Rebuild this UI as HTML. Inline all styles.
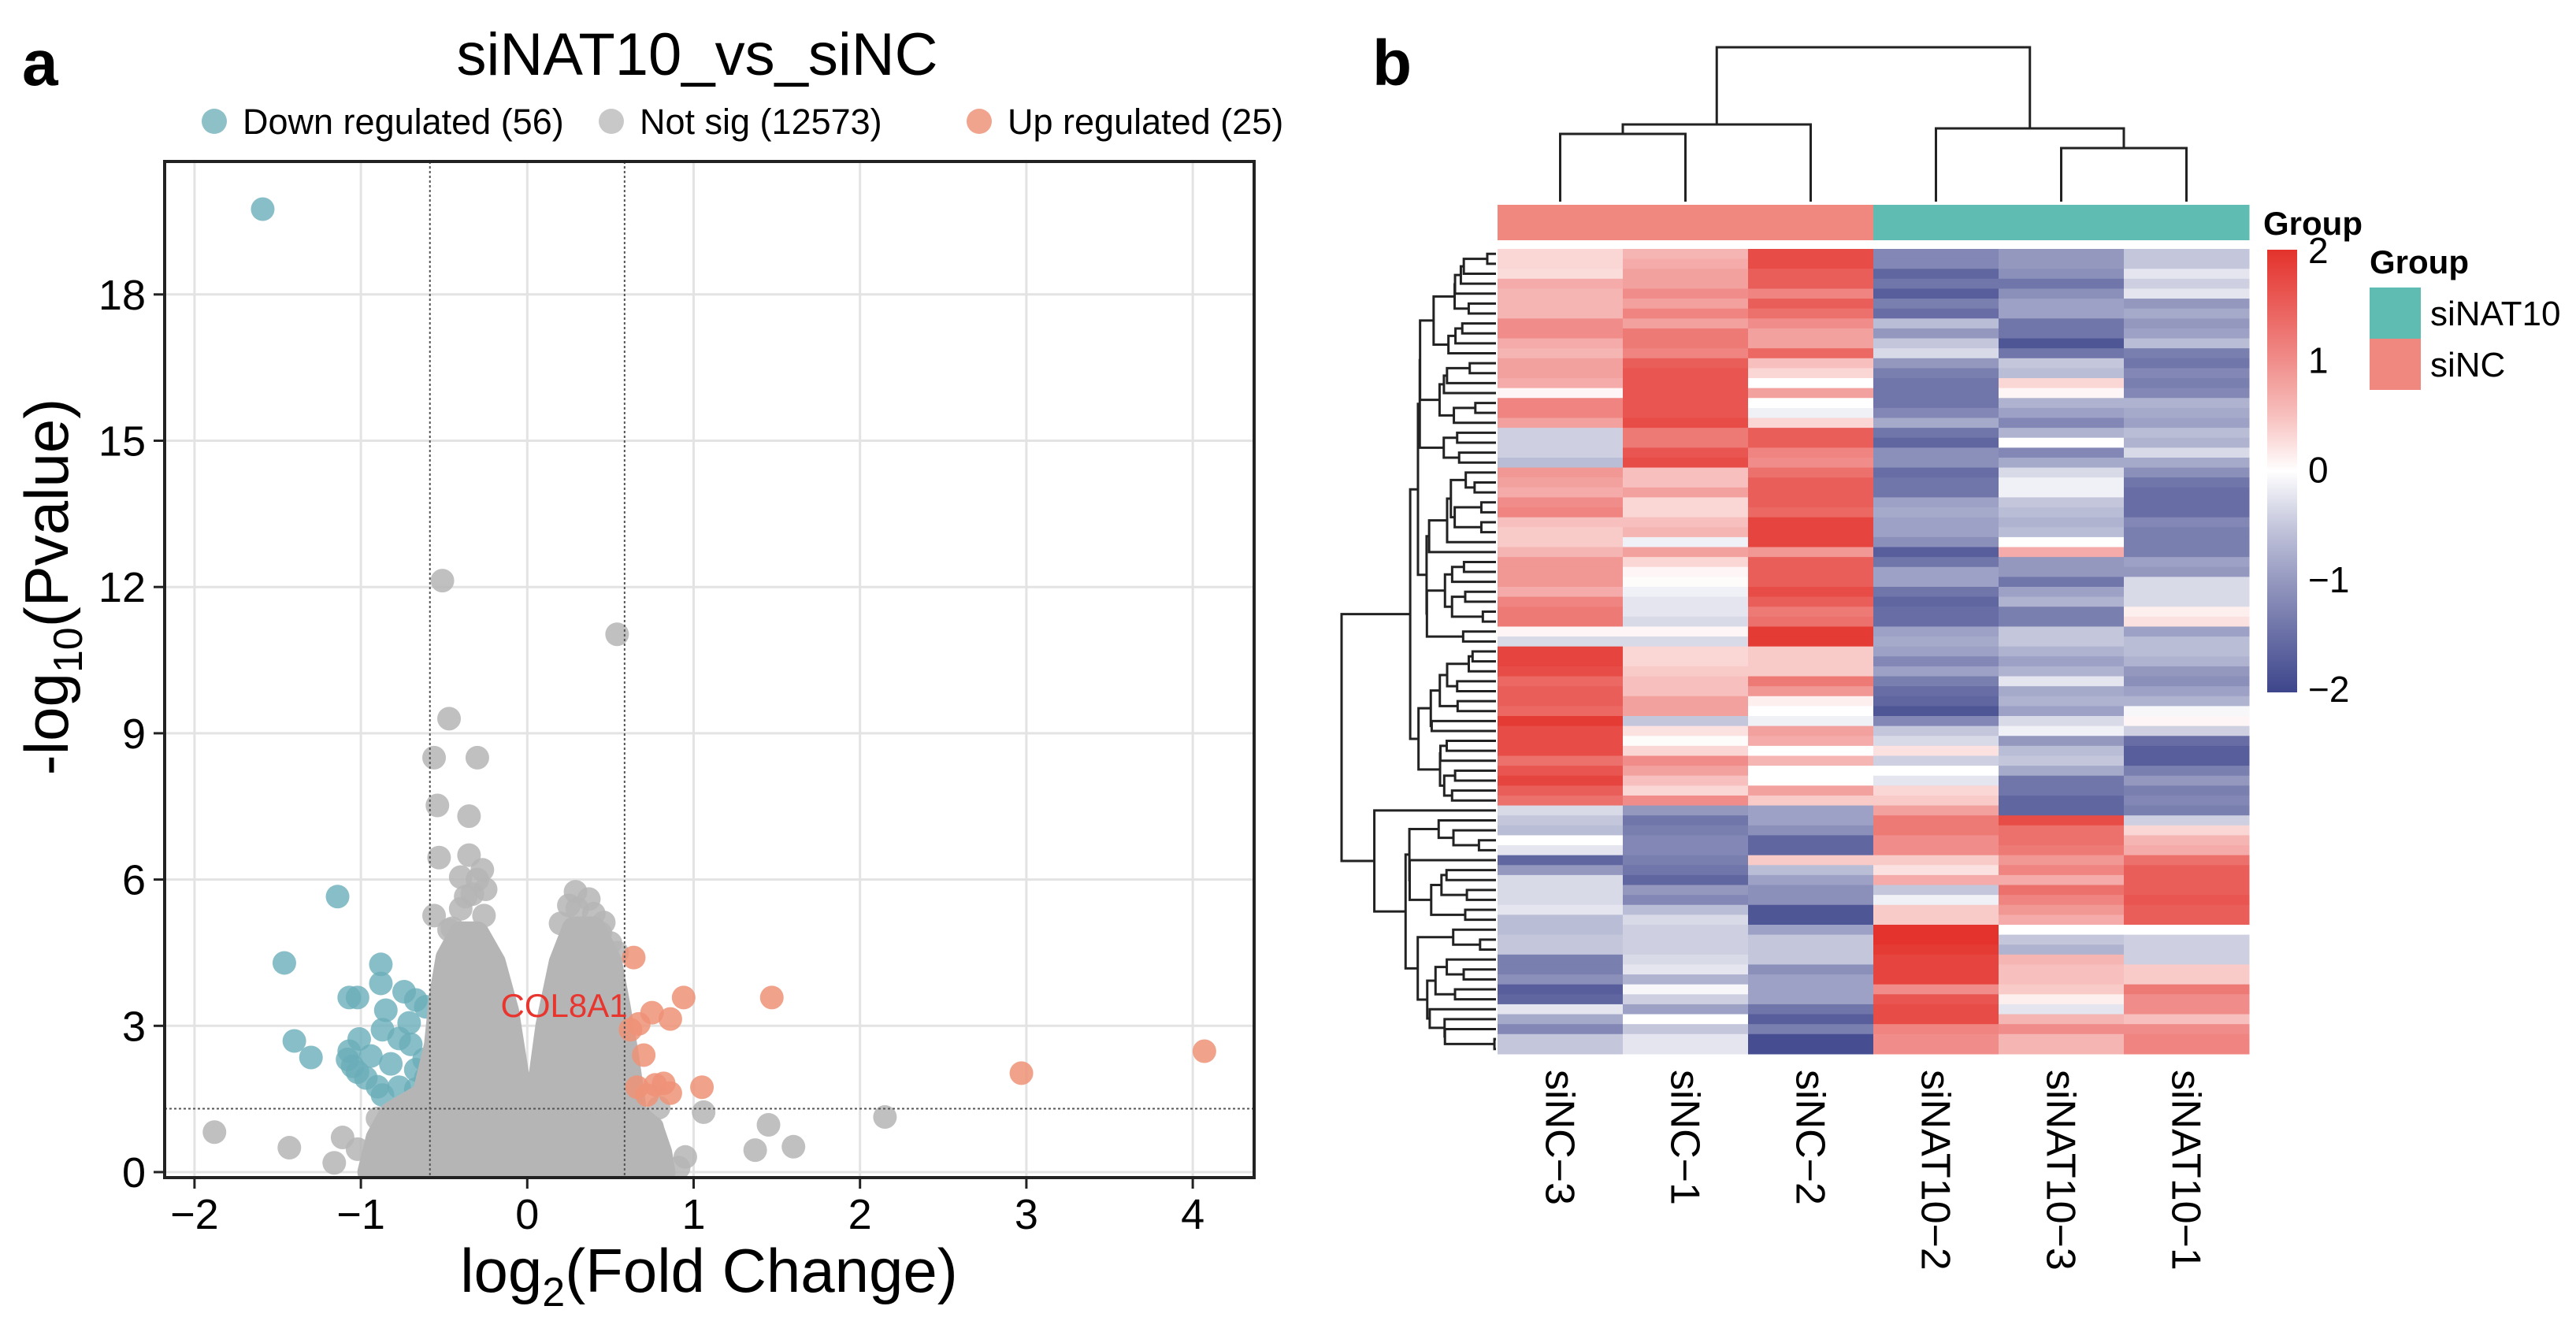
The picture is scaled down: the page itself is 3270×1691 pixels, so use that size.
<!DOCTYPE html>
<html><head><meta charset="utf-8"><style>
html,body{margin:0;padding:0;background:#fff;}
svg{display:block;font-family:"Liberation Sans",Arial,sans-serif;}
</style></head><body>
<svg id="fig" width="3270" height="1691" viewBox="0 0 3270 1691" xmlns="http://www.w3.org/2000/svg">
<rect width="3270" height="1691" fill="#fff"/>
<text x="28" y="108" font-size="82" font-weight="bold">a</text>
<text x="1742" y="108" font-size="82" font-weight="bold">b</text>
<text x="885" y="95" font-size="76" text-anchor="middle">siNAT10_vs_siNC</text>
<g font-size="45">
<circle cx="272" cy="154" r="16" fill="#8ec0c8"/>
<text x="308" y="170">Down regulated (56)</text>
<circle cx="776" cy="154" r="16" fill="#c8c8c8"/>
<text x="812" y="170">Not sig (12573)</text>
<circle cx="1243" cy="154" r="16" fill="#f0a48e"/>
<text x="1279" y="170">Up regulated (25)</text>
</g>
<g id="volcano"></g>
<g id="heat"></g>
</svg>
<script>
// ---------- Volcano data ----------
const xTicks = [-2,-1,0,1,2,3,4];
const yTicks = [0,3,6,9,12,15,18];
const fcCut = 0.585;
const pCut = 1.3;
const notSigCloud = [[-0.95,0],[-0.9,0.7],[-0.82,1.2],[-0.62,1.6],[-0.55,2.6],[-0.52,3.6],[-0.48,4.4],[-0.4,4.9],[-0.3,4.9],[-0.2,4.3],[-0.12,3.3],[-0.06,2.0],[-0.02,0.3],[0.02,0.3],[0.08,2.0],[0.12,3.0],[0.2,4.3],[0.28,5.0],[0.4,5.0],[0.5,4.3],[0.55,3.4],[0.6,2.4],[0.65,1.2],[0.75,0.9],[0.8,0.4],[0.82,0]];
const notSigX = [-0.51,0.54,-0.47,-0.30,-0.56,-0.54,-0.35,-0.53,-0.35,-0.27,-0.40,-0.37,-0.56,-0.26,-0.47,0.29,0.37,0.25,0.40,0.46,0.54,-1.88,-1.43,-1.11,-1.02,-1.16,-0.87,1.06,1.45,1.37,1.60,2.15,0.95,0.91,0.79,0.75,0.77,-0.57,-0.72,-0.4,-0.33,-0.45,-0.25,-0.3,0.2,0.3,0.44,0.5,-0.9,-0.82];
const notSigY = [12.13,11.03,9.3,8.5,8.5,7.52,7.3,6.45,6.5,6.2,6.05,5.65,5.26,5.26,4.97,5.75,5.6,5.47,5.3,5.12,4.5,0.82,0.5,0.71,0.47,0.19,0.36,1.23,0.97,0.45,0.52,1.13,0.31,0.09,1.32,0.92,0.57,1.6,0.75,5.4,5.7,5.0,5.8,6.0,5.1,5.4,4.9,4.7,1.1,0.9];
const downX = [-1.59,-1.14,-1.46,-0.88,-0.88,-0.74,-1.07,-1.02,-0.85,-0.67,-0.61,-1.40,-1.30,-0.87,-1.01,-1.07,-0.77,-0.70,-0.94,-1.08,-0.82,-1.02,-0.67,-0.97,-0.90,-0.77,-0.87,-0.67,-0.61,-0.62,-1.05,-0.71];
const downY = [19.75,5.65,4.29,4.26,3.87,3.7,3.58,3.58,3.32,3.53,3.39,2.69,2.35,2.92,2.73,2.48,2.74,2.62,2.38,2.31,2.22,2.05,2.10,1.93,1.75,1.74,1.58,1.70,1.93,2.31,2.17,3.06];
const upX = [0.64,0.94,1.47,0.75,0.86,0.67,0.62,0.70,4.07,2.97,1.05,0.66,0.77,0.82,0.86,0.72];
const upY = [4.40,3.58,3.58,3.27,3.14,3.04,2.92,2.40,2.48,2.03,1.74,1.74,1.79,1.82,1.62,1.58];
const labelGene = ["COL8A1"];
const labelX = [-0.16];
const labelY = [3.18];

// ---------- Heatmap data ----------
const samples = ["siNC\u22123","siNC\u22121","siNC\u22122","siNAT10\u22122","siNAT10\u22123","siNAT10\u22121"];
const sampleGroup = ["siNC","siNC","siNC","siNAT10","siNAT10","siNAT10"];
const col_siNC3 = [0.3,0.3,0.25,0.7,0.6,0.6,0.6,1.0,1.0,0.7,0.6,0.8,0.8,0.7,0.05,1.1,1.1,0.8,-0.4,-0.4,-0.4,-0.6,0.9,0.8,0.7,1.0,1.1,0.5,0.4,0.4,0.6,0.9,0.9,0.9,0.7,1.1,1.2,1.2,0.05,-0.3,1.8,1.8,1.7,1.4,1.5,1.5,1.4,1.9,1.7,1.7,1.7,1.3,1.6,1.8,1.5,1.3,-0.3,-0.5,-0.6,0.0,-0.2,-1.6,-1.0,-0.3,-0.3,-0.3,-0.2,-0.6,-0.6,-0.5,-0.5,-1.3,-1.3,-1.1,-1.7,-1.6,-0.2,-0.8,-1.2,-0.5,-0.5];
const col_siNC1 = [0.6,0.7,0.8,0.8,1.0,0.8,1.1,0.8,1.2,1.2,1.1,1.5,1.6,1.6,1.6,1.6,1.6,1.7,1.2,1.2,1.6,1.7,0.5,0.5,0.8,0.3,0.3,0.5,0.6,-0.1,0.8,0.3,0.05,0.02,-0.1,-0.2,-0.2,-0.3,0.05,-0.3,0.3,0.3,0.4,0.5,0.5,0.8,0.8,-0.5,0.2,0.02,0.3,1.0,0.8,0.5,0.3,1.0,-1.0,-1.4,-1.3,-1.2,-1.2,-1.3,-1.4,-1.6,-1.0,-1.2,-0.6,-0.3,-0.4,-0.4,-0.4,-0.3,-0.2,-0.7,-0.05,-0.4,-0.9,0.0,-0.5,-0.2,-0.2];
const col_siNC2 = [1.7,1.7,1.5,1.5,1.1,1.5,1.3,1.0,0.8,0.8,1.4,0.5,0.3,0.0,0.8,0.0,-0.1,0.3,1.5,1.5,1.1,1.0,1.3,1.5,1.5,1.5,1.4,1.8,1.8,1.8,0.9,1.5,1.5,1.5,1.7,1.5,1.2,1.3,1.9,1.9,0.4,0.4,0.4,1.2,0.9,0.1,0.0,-0.1,0.8,0.7,0.0,0.6,0.0,0.0,0.8,0.4,-0.9,-0.9,-1.1,-1.6,-1.6,0.4,-0.6,-0.9,-1.1,-1.1,-1.8,-1.8,-0.9,-0.5,-0.5,-0.5,-1.1,-0.9,-0.9,-0.9,-1.4,-1.7,-1.3,-1.9,-1.9];
const col_siNAT10_2 = [-1.2,-1.2,-1.6,-1.4,-1.7,-1.3,-1.5,-0.6,-1.0,-0.5,-0.3,-1.0,-1.3,-1.4,-1.4,-1.4,-1.2,-0.8,-1.4,-1.6,-1.1,-1.1,-1.5,-1.4,-1.4,-0.9,-0.8,-0.9,-0.9,-1.1,-1.7,-1.4,-0.9,-0.9,-1.4,-1.6,-1.5,-1.5,-0.9,-0.8,-0.9,-1.2,-0.9,-1.3,-1.5,-1.6,-1.8,-1.2,-0.5,-0.3,0.2,-0.4,0.0,-0.2,0.3,0.4,0.8,1.2,1.2,1.0,1.0,0.4,0.2,0.7,-0.5,-0.1,0.4,0.4,2.0,2.0,1.9,1.8,1.8,1.8,1.0,1.6,1.7,1.7,1.1,1.0,1.0];
const col_siNAT10_3 = [-1.0,-1.0,-1.1,-1.4,-1.1,-0.9,-0.9,-1.4,-1.4,-1.8,-1.4,-0.5,-0.6,0.3,0.05,-0.7,-0.9,-1.2,-0.7,0.0,-1.2,-0.8,-0.3,-0.1,-0.1,-0.5,-0.6,-0.7,-0.6,0.0,0.7,-1.0,-1.0,-1.4,-0.9,-0.7,-1.3,-1.3,-0.5,-0.5,-0.7,-0.9,-0.7,-0.2,-0.8,-0.7,-0.9,-0.3,-0.1,-1.0,-0.6,-0.5,-0.8,-1.4,-1.4,-1.6,-1.6,1.7,1.3,1.3,1.2,0.9,1.1,0.7,1.3,1.1,0.9,0.7,0.0,-0.5,-0.7,0.6,0.5,0.5,0.4,0.1,-0.2,0.6,1.0,0.6,0.6];
const col_siNAT10_1 = [-0.5,-0.5,-0.2,-0.4,-0.2,-1.0,-0.8,-1.0,-0.9,-0.6,-1.3,-1.4,-1.2,-1.3,-1.2,-0.7,-0.8,-0.9,-0.6,-0.7,-0.3,-0.8,-1.1,-1.4,-1.5,-1.5,-1.5,-1.2,-1.3,-1.3,-1.3,-0.9,-1.0,-0.3,-0.3,-0.3,0.1,0.2,-0.9,-0.6,-0.6,-0.7,-1.0,-1.1,-0.9,-0.7,-0.05,0.05,-0.4,-1.5,-1.7,-1.7,-1.3,-1.0,-1.3,-1.2,-1.3,-0.4,0.3,0.6,0.7,1.3,1.5,1.5,1.5,1.6,1.5,1.5,0.0,-0.4,-0.4,-0.4,0.4,0.4,1.2,1.0,1.0,0.5,1.0,1.1,1.1];
const colorTicks = [2,1,0,-1,-2];
const legendGroups = ["siNAT10","siNC"];

const NS = "http://www.w3.org/2000/svg";
function mk(tag, attrs, parent){ const e=document.createElementNS(NS,tag); for(const k in attrs) e.setAttribute(k,attrs[k]); parent.appendChild(e); return e; }

// ---------- Volcano ----------
const V = document.getElementById('volcano');
const PL=209, PR=1592, PT=205, PB=1495;
const X = v => 669.3 + v*211.2;
const Y = v => 1488 - v*61.9;
const clip = mk('clipPath',{id:'pc'},V); mk('rect',{x:PL,y:PT,width:PR-PL,height:PB-PT},clip);
xTicks.forEach(t=>{
  const g=mk('line',{x1:X(t),x2:X(t),y1:PT,y2:PB,stroke:'#e3e3e3','stroke-width':3},V);
   
  const tk=mk('line',{x1:X(t),x2:X(t),y1:PB,y2:PB+14,stroke:'#222','stroke-width':3},V);
   
  const lb=mk('text',{x:X(t),y:1560,'font-size':54,'text-anchor':'middle'},V); lb.textContent=(t<0?'\u2212':'')+Math.abs(t);
   
});
yTicks.forEach(t=>{
  const g=mk('line',{x1:PL,x2:PR,y1:Y(t),y2:Y(t),stroke:'#e3e3e3','stroke-width':3},V);
   
  const tk=mk('line',{x1:PL-14,x2:PL,y1:Y(t),y2:Y(t),stroke:'#222','stroke-width':3},V);
   
  const lb=mk('text',{x:PL-24,y:Y(t)+19,'font-size':54,'text-anchor':'end'},V); lb.textContent=t;
   
});
const pts=mk('g',{'clip-path':'url(#pc)'},V);
 
downX.forEach((x,i)=>{ const c=mk('circle',{cx:X(x),cy:Y(downY[i]),r:15,fill:'#6aaeb9','fill-opacity':0.8},pts);
    });
const cloud=mk('path',{d:'M'+notSigCloud.map(p=>X(p[0])+','+Y(p[1])).join('L')+'Z',fill:'#b5b5b5',stroke:'#b5b5b5','stroke-width':30,'stroke-linejoin':'round'},pts);
 
notSigX.forEach((x,i)=>{ const c=mk('circle',{cx:X(x),cy:Y(notSigY[i]),r:15,fill:'#b5b5b5','fill-opacity':0.85},pts);
    });
upX.forEach((x,i)=>{ const c=mk('circle',{cx:X(x),cy:Y(upY[i]),r:15,fill:'#ee9277','fill-opacity':0.85},pts);
    });
[-fcCut,fcCut].forEach(v=>{ const l=mk('line',{x1:X(v),x2:X(v),y1:PT,y2:PB,stroke:'#555','stroke-width':2,'stroke-dasharray':'3,3'},V);
    });
const hl=mk('line',{x1:PL,x2:PR,y1:Y(pCut),y2:Y(pCut),stroke:'#555','stroke-width':2,'stroke-dasharray':'3,3'},V);
 
labelGene.forEach((g,i)=>{ const t=mk('text',{x:X(labelX[i]),y:Y(labelY[i]),'font-size':42,fill:'#e8352e'},V); t.textContent=g;
    });
const box=mk('rect',{x:PL,y:PT,width:PR-PL,height:PB-PT,fill:'none',stroke:'#222','stroke-width':4},V);
 
const xt=mk('text',{x:900,y:1640,'font-size':78,'text-anchor':'middle'},V);
xt.innerHTML='log<tspan font-size="52" dy="18">2</tspan><tspan dy="-18">(Fold Change)</tspan>';
 
const yt=mk('text',{x:0,y:0,'font-size':78,'text-anchor':'middle',transform:'translate(86,745) rotate(-90)'},V);
yt.innerHTML='-log<tspan font-size="52" dy="18">10</tspan><tspan dy="-18">(Pvalue)</tspan>';
 

// ---------- Heatmap ----------
const H=document.getElementById('heat');
const cols=[col_siNC3,col_siNC1,col_siNC2,col_siNAT10_2,col_siNAT10_3,col_siNAT10_1];
const HL=1901, CW=159, HT=316, HB=1338, nRows=col_siNC3.length, RH=(HB-HT)/nRows;
function col(v){ v=Math.max(-2,Math.min(2,v)); let a,b,t;
  if(v>=0){a=[255,255,255];b=[228,50,44];t=v/2;} else {a=[255,255,255];b=[62,70,140];t=-v/2;}
  const tt=Math.pow(t,0.85);
  return 'rgb('+a.map((c,i)=>Math.round(c+(b[i]-c)*tt)).join(',')+')'; }
cols.forEach((arr,ci)=>{ arr.forEach((v,ri)=>{
  const r=mk('rect',{x:HL+ci*CW,y:HT+ri*RH,width:CW+0.5,height:RH+0.5,fill:col(v)},H);
    }); });
sampleGroup.forEach((g,ci)=>{ const r=mk('rect',{x:HL+ci*CW,y:260,width:CW+0.5,height:45,fill:g==='siNC'?'#f08880':'#5fbcb3'},H);
    });
samples.forEach((s,ci)=>{ const t=mk('text',{x:0,y:0,'font-size':52,transform:'translate('+(HL+ci*CW+CW/2-18)+',1358) rotate(90)'},H); t.textContent=s;
    });
const cx=i=>HL+CW*(i+0.5);
const dg=mk('g',{stroke:'#222','stroke-width':3,fill:'none'},H);
 
function U(x1,y1,x2,y2,top){ mk('path',{d:`M${x1},${y1}V${top}H${x2}V${y2}`},dg); }
U(cx(0),256,cx(1),256,170); U((cx(0)+cx(1))/2,170,cx(2),256,158);
U(cx(4),256,cx(5),256,188); U(cx(3),256,(cx(4)+cx(5))/2,188,163);
U(((cx(0)+cx(1))/2+cx(2))/2,158,(cx(3)+(cx(4)+cx(5))/2)/2,163,60);
let clusters=[]; for(let i=0;i<nRows;i++) clusters.push({members:[i],y:HT+RH*(i+0.5),h:0});
function dist(a,b){ let s=0,n=0; a.members.forEach(i=>b.members.forEach(j=>{ let d=0; cols.forEach(c=>{d+=(c[i]-c[j])**2}); s+=Math.sqrt(d); n++;})); return s/n; }
const merges=[];
while(clusters.length>1){ let best=-1,bd=1e9; for(let k=0;k<clusters.length-1;k++){ const d=Math.max(dist(clusters[k],clusters[k+1]),Math.max(clusters[k].h,clusters[k+1].h)+0.01); if(d<bd){bd=d;best=k;} }
  const a=clusters[best],b=clusters[best+1]; const m={members:a.members.concat(b.members),y:(a.y+b.y)/2,h:bd,a:a,b:b}; merges.push(m); clusters.splice(best,2,m); }
const hmax=clusters[0].h;
const rg=mk('g',{stroke:'#222','stroke-width':3,fill:'none'},H);
 
const hx=h=>1899-Math.pow(h/hmax,0.75)*196;
merges.forEach(m=>{ mk('path',{d:`M${hx(m.a.h)},${m.a.y}H${hx(m.h)}V${m.b.y}H${hx(m.b.h)}`},rg); });
const defs=mk('defs',{},H); const lg=mk('linearGradient',{id:'cb',x1:0,y1:0,x2:0,y2:1},defs);
[2,1.5,1,0.5,0,-0.5,-1,-1.5,-2].forEach((v,i)=>mk('stop',{offset:(i/8),'stop-color':col(v)},lg));
const cb=mk('rect',{x:2878,y:317,width:38,height:562,fill:'url(#cb)'},H);
 
colorTicks.forEach(v=>{ const t=mk('text',{x:2930,y:317+(2-v)/4*557+17,'font-size':46},H); t.textContent=(v<0?'\u2212':'')+Math.abs(v);
    });
const gt=mk('text',{x:2873,y:298,'font-size':42,'font-weight':'bold'},H); gt.textContent='Group';
 
const lt=mk('text',{x:3008,y:347,'font-size':42,'font-weight':'bold'},H); lt.textContent='Group';
 
legendGroups.forEach((g,i)=>{ const r=mk('rect',{x:3008,y:365+i*65,width:65,height:65,fill:g==='siNC'?'#f08880':'#5fbcb3'},H);
   
  const t=mk('text',{x:3085,y:413+i*65,'font-size':44},H); t.textContent=g;
    });
</script>
</body></html>
